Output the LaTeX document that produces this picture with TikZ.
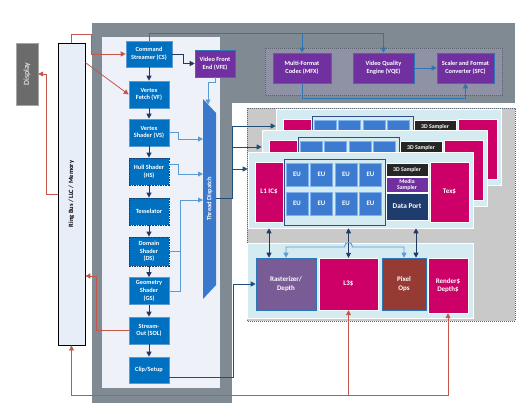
\documentclass[tikz,border=0pt]{standalone}
\usepackage{fontspec}
\usepackage{graphicx}
\setmainfont{Carlito}
\usetikzlibrary{arrows.meta,positioning,calc}
\definecolor{cgray}{HTML}{7F8A92}
\definecolor{cpanel}{HTML}{EEF1F7}
\definecolor{cmedia}{HTML}{8F91A4}
\definecolor{cdots}{HTML}{5E6470}
\definecolor{cslice}{HTML}{C9C9C9}
\definecolor{ccyan}{HTML}{D5EBF2}
\definecolor{cblue}{HTML}{0070C0}
\definecolor{cblueb}{HTML}{5B9BD5}
\definecolor{cpurp}{HTML}{7030A0}
\definecolor{cmag}{HTML}{CC0066}
\definecolor{ceu}{HTML}{3C7BD0}
\definecolor{ceub}{HTML}{7FB2EE}
\definecolor{ckeret}{HTML}{2E4D8A}
\definecolor{cnavy}{HTML}{1F3864}
\definecolor{cdark}{HTML}{262626}
\definecolor{crast}{HTML}{795B96}
\definecolor{cpix}{HTML}{963A34}
\definecolor{cdp}{HTML}{1F3C6E}
\definecolor{ctd}{HTML}{3A78CC}
\definecolor{cred}{HTML}{C5564B}
\definecolor{cline}{HTML}{2E75B6}
\definecolor{clight}{HTML}{5B9BD5}
\definecolor{csdark}{HTML}{1F4E79}
\definecolor{cdisp}{HTML}{6B6B6B}
\definecolor{cring}{HTML}{E8EEF8}
\tikzset{
  blk/.style={draw=cblueb,fill=cblue,line width=0.6pt,text=white,inner sep=0pt,align=center,
    minimum width=40,minimum height=27,font=\fontsize{6.3}{7.6}\selectfont\bfseries},
  dblk/.style={blk,draw=cnavy,line width=0.8pt,dash pattern=on 1.6pt off 1pt},
  lila/.style={blk,fill=cpurp,draw=cline},
  mag/.style={blk,fill=cmag,draw=white,line width=0.4pt,font=\fontsize{7}{8.6}\selectfont\bfseries},
  eu/.style={blk,fill=ceu,draw=ceub,minimum width=22,minimum height=23,font=\fontsize{6.8}{8}\selectfont\bfseries},
  minta/.style={blk,fill=cdark,draw=white,line width=0.4pt,minimum width=42,minimum height=13,font=\fontsize{5.8}{6}\selectfont\bfseries},
  panel/.style={fill=ccyan,draw=white,line width=0.6pt,inner sep=0pt},
  keret/.style={draw=ckeret,fill=ccyan,line width=0.8pt,inner sep=0pt,minimum width=101,minimum height=66},
  pont/.style={dash pattern=on 0.8pt off 1.2pt,draw=cdots,line width=0.6pt},
  nyil/.style={draw=cnavy,line width=0.9pt,->},
  snyil/.style={draw=csdark,line width=0.9pt,->},
  knyil/.style={draw=clight,line width=0.9pt,->},
  mnyil/.style={draw=cline,line width=0.9pt,->},
  pnyil/.style={draw=cred,line width=0.8pt,->},
}
\begin{document}
\begin{tikzpicture}[x=1pt,y=-1pt,>={Triangle[length=5pt,width=5pt]}]
  \useasboundingbox (0,0) rectangle (525,410);
  \fill[white] (0,0) rectangle (525,410);
  % backgrounds
  \fill[cgray] (92,23) rectangle (515,403);
  \fill[white] (232,103) rectangle (516,404);
  \fill[cpanel] (102,37) rectangle (220,388);
  \filldraw[pont,fill=cmedia] (265,48) rectangle (502,95);
  \filldraw[pont,fill=cslice] (247,108) rectangle (515,321);

  \node[draw=gray!70,fill=cdisp,minimum width=22,minimum height=62,inner sep=0pt,text=white,
    font=\fontsize{8}{9}\selectfont] (DISP) at (27,74) {\rotatebox{90}{Display}};
  \node[draw=black,fill=cring,line width=0.8pt,minimum width=27,minimum height=302,inner sep=0pt,
    font=\fontsize{6.5}{8}\selectfont\bfseries] (RB) at (71.5,194) {\rotatebox{90}{Ring Bus / LLC / Memory}};

  % 3D pipeline
  \node[blk,minimum width=46,minimum height=26] (CS) at (149,54) {Command\\Streamer (CS)};
  \node[lila] (VFE) at (215,63.5) {Video Front\\End (VFE)};
  \node[blk] (VF) at (149,94.5) {Vertex\\Fetch (VF)};
  \node[blk] (VS) at (149,132.5) {Vertex\\Shader (VS)};
  \node[dblk] (HS) at (149,171.5) {Hull Shader\\(HS)};
  \node[dblk] (TE) at (149,211.5) {Tesselator};
  \node[dblk,minimum height=29] (DS) at (149,251.5) {Domain\\Shader\\(DS)};
  \node[blk] (GS) at (149,291) {Geometry\\Shader\\(GS)};
  \node[blk] (SOL) at (149,330.5) {Stream-\\Out (SOL)};
  \node[blk,minimum height=26] (CL) at (149,370) {Clip/Setup};
  \foreach \a/\b in {CS/VF,VF/VS,VS/HS,HS/TE,TE/DS,DS/GS,GS/SOL,SOL/CL}
    \draw[nyil] (\a.south) -- (\b.north);

  % thread dispatch
  \fill[ctd] (203,99) -- (216,113) -- (216,285) -- (203,299) -- cycle;
  \node[text=white,inner sep=0pt,font=\fontsize{6.5}{8}\selectfont\bfseries] (TD) at (209.5,199) {\rotatebox{90}{Thread Dispatch}};
  \coordinate (tdtop) at (208,104.5);
  \coordinate (td1) at (203,139);
  \coordinate (td2) at (203,174);
  \coordinate (td3) at (203,200);
  \coordinate (tdout) at (216,198);
  \coordinate (elag) at (232,198);

  % media
  \node[lila,minimum width=58,minimum height=30] (MFX) at (302,68) {Multi-Format\\Codec (MFX)};
  \node[lila,minimum width=61,minimum height=30] (VQE) at (383.5,68) {Video Quality\\Engine (VQE)};
  \node[lila,minimum width=57,minimum height=30] (SFC) at (465.5,68) {Scaler and Format\\Converter (SFC)};
  \coordinate (fent) at (0,33);
  \coordinate (lent) at (0,98);

  % slices, back to front (hidden labels only on the front one)
  \foreach \n/\dx/\dy in {3/28/-43,2/14/-21.5,1/0/0}{
    \begin{scope}[shift={(\dx,\dy)}]
      \node[panel,minimum width=225,minimum height=76] (S\n) at (360.5,190) {};
      \node[mag,minimum width=28,minimum height=60] (IC\n) at (269,192) {\ifnum\n=1 L1 IC\$\fi};
      \node[keret] (EF\n) at (334.5,192) {};
      \foreach \i/\xx in {1/297,2/321.5,3/346,4/370.5}{
        \node[eu] (EUa\n\i) at (\xx,174.5) {\ifnum\n=1 EU\fi};
        \node[eu] (EUb\n\i) at (\xx,203.5) {\ifnum\n=1 EU\fi};
      }
      \node[minta] (SMP\n) at (407,169.5) {3D Sampler};
      \node[minta,fill=cpurp,minimum height=15] (MS\n) at (407,184.5) {\ifnum\n=1 Media\\Sampler\fi};
      \node[minta,fill=cdp,minimum height=27,font=\fontsize{7.3}{8}\selectfont\bfseries] (DP\n) at (407,206.5) {\ifnum\n=1 Data Port\fi};
      \node[mag,minimum width=39,minimum height=60] (TX\n) at (449.5,192) {\ifnum\n=1 Tex\$\fi};
    \end{scope}
  }

  % lower part of the slice
  \node[panel,minimum width=226,minimum height=75] (LOW) at (360,280.5) {};
  \node[blk,fill=crast,draw=cline,minimum width=60,minimum height=52,font=\fontsize{7}{9}\selectfont\bfseries] (RAS) at (286,284) {Rasterizer/\\Depth};
  \node[mag,minimum width=59,minimum height=52] (L3) at (348.5,284) {L3\$};
  \node[blk,fill=cpix,draw=cline,minimum width=44,minimum height=52,font=\fontsize{7}{9}\selectfont\bfseries] (PIX) at (404,284) {Pixel\\Ops};
  \node[mag,minimum width=40,minimum height=55] (RND) at (448,285.5) {Render\$\\Depth\$};
  \coordinate (jobb) at (416,0);
  \coordinate (h1) at (344.5,247);
  \coordinate (h2) at (352.5,247);
  \coordinate (palja) at (0,395);

  % connectors
  \draw[nyil] (CS.east) -- ++(11,0) |- (VFE.west);
  \draw[mnyil] (CS.north) |- (VQE.north |- fent) -- (VQE.north);
  \draw[mnyil] (MFX.north |- fent) -- (MFX.north);
  \draw[mnyil] (VQE.east) -- (SFC.west);
  \draw[mnyil] (MFX.south) |- (SFC.south |- lent) -- (SFC.south);
  \draw[knyil] (VFE.south) -- ++(0,5) -| (tdtop);
  \draw[knyil] (VS.east) -- ++(9,0) |- (td1);
  \draw[knyil] ([yshift=7.5pt]HS.east) -- ++(9,0) |- (td2);
  \draw[knyil,-] (DS.east) -- ++(11,0);
  \draw[knyil] (GS.east) -- ++(11,0) |- (td3);
  \draw[snyil] (tdout) -- (elag) |- ([yshift=21pt]S3.west);
  \draw[snyil] (elag |- S2.west) ++(0,-21.5) -- ([yshift=21.5pt]S2.west);
  \draw[snyil] (elag |- S1.west) ++(0,-21) -- ([yshift=21pt]S1.west);
  \draw[snyil] ([yshift=-7pt]CL.east) -- ++(64,0) |- (RAS.west);
  \draw[nyil,<->] (S1.south -| IC1) -- (RAS.north -| IC1);
  \draw[nyil,<->] (S1.south -| L3) -- (L3.north);
  \draw[nyil,<->] (S1.south -| jobb) -- (PIX.north -| jobb);
  \draw[knyil,<->] (RAS.north) |- (h1) .. controls +(0,-6) and +(0,-6) .. (h2) -| (PIX.north);
  % ring bus traffic
  \draw[pnyil] (RB.north) -- ++(0,-8) -| ($(CS.west)+(-34,0)$) -- (CS.west);
  \draw[pnyil] ([yshift=-20pt]RB.north east) -- (VF.west);
  \draw[pnyil] (RB.west) -- ++(-11,0) |- (DISP.east);
  \draw[pnyil] (SOL.west) -- ++(-32,0) |- ([yshift=-82pt]RB.east);
  \draw[pnyil,<->] (RB.south) |- (RND.south |- palja) -- (RND.south);
  \draw[pnyil] (L3.south |- palja) -- (L3.south);
\end{tikzpicture}
\end{document}
